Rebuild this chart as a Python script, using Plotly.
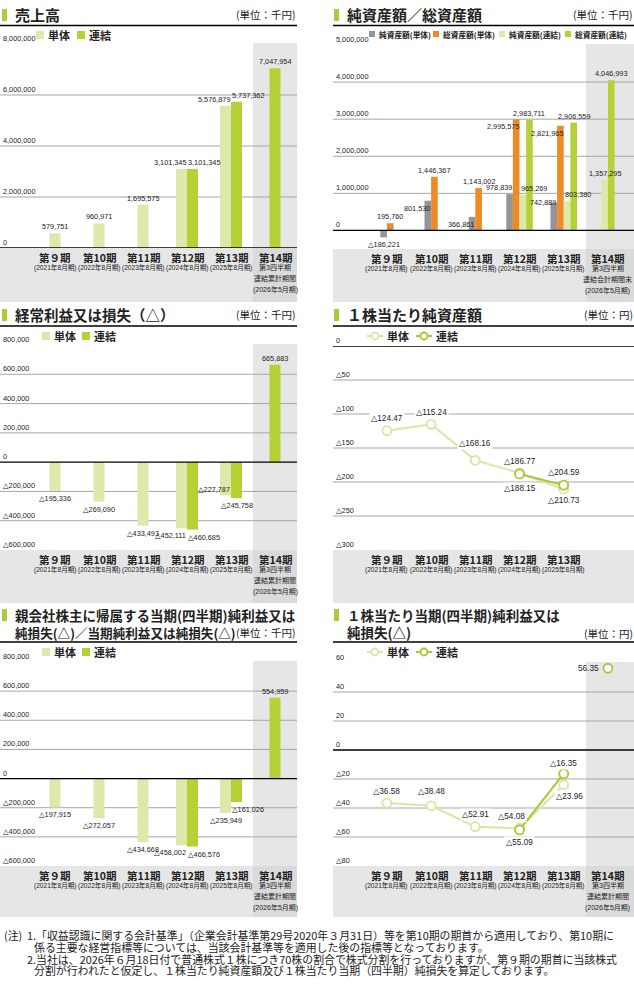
import plotly.graph_objects as go

W, H = 634, 990

# ---------------- data ----------------
periods = ["第９期", "第10期", "第11期", "第12期", "第13期", "第14期"]
period_notes = ["(2021年8月期)", "(2022年8月期)", "(2023年8月期)", "(2024年8月期)", "(2025年8月期)"]
q3_notes_cum = ["第3四半期", "連結累計期間", "(2026年5月期)"]
q3_notes_end = ["第3四半期", "連結会計期間末", "(2026年5月期)"]

sales_single = [579751, 960971, 1695575, 3101345, 5576879, None]
sales_consol = [None, None, None, 3101345, 5737362, 7047954]

net_assets_single = [-186221, 801530, 366861, 978839, 742889, None]
total_assets_single = [195760, 1446367, 1143002, 2995575, 2821965, None]
net_assets_consol = [None, None, None, 965269, 803380, 1357295]
total_assets_consol = [None, None, None, 2983711, 2906559, 4046993]

ordinary_single = [-195336, -269090, -433493, -452111, -227787, None]
ordinary_consol = [None, None, None, -460685, -245758, 665883]

bps_single = [-124.47, -115.24, -168.16, -186.77, -210.73]
bps_consol = [None, None, None, -188.15, -204.59]

net_single = [-197915, -272057, -434668, -458002, -235949, None]
net_consol = [None, None, None, -466576, -161026, 554959]

eps_single = [-36.58, -38.48, -52.91, -54.08, -23.96, None]
eps_consol = [None, None, None, -55.09, -16.35, 56.35]

ticks_sales = [0, 2000000, 4000000, 6000000, 8000000]
ticks_assets = [0, 1000000, 2000000, 3000000, 4000000, 5000000]
ticks_profit = [-600000, -400000, -200000, 0, 200000, 400000, 600000, 800000]
ticks_bps = [-300, -250, -200, -150, -100, -50, 0]
ticks_eps = [-80, -60, -40, -20, 0, 20, 40, 60]

notes = [
    "1.「収益認識に関する会計基準」（企業会計基準第29号2020年３月31日）等を第10期の期首から適用しており、第10期に",
    "係る主要な経営指標等については、当該会計基準等を適用した後の指標等となっております。",
    "2.当社は、2026年６月18日付で普通株式１株につき70株の割合で株式分割を行っておりますが、第９期の期首に当該株式",
    "分割が行われたと仮定し、１株当たり純資産額及び１株当たり当期（四半期）純損失を算定しております。",
]

# ---------------- style ----------------
NUM = "Liberation Sans, Arial, DejaVu Sans, Noto Sans CJK JP, sans-serif"
JP = "Noto Sans CJK JP, sans-serif"
C_SINGLE = "#dde9ab"
C_CONSOL = "#b4d235"
C_GRAY = "#939598"
C_ORANGE = "#f08a24"
L_SINGLE = "#d6e7a4"
L_CONSOL = "#a5c92f"
MARK = "#a9cc3a"
BAND = "#e6e6e6"
BAND_DARK = "#dadada"
GRID = "#a6a6a6"
INK = "#222222"

LEFT = dict(px=(0, 297), xr=(-1.25, 5.5))
RIGHT = dict(px=(333, 634), xr=(-1.22, 5.59))
panel = {
    1: dict(col=LEFT, y=(44, 248), yr=(0, 8e6), ticks=ticks_sales, band=302, q3=True),
    2: dict(col=RIGHT, y=(45, 249), yr=(-5e5, 5e6), ticks=ticks_assets, band=302, q3=True),
    3: dict(col=LEFT, y=(345, 550), yr=(-6e5, 8e5), ticks=ticks_profit, band=603, q3=True),
    4: dict(col=RIGHT, y=(346, 550), yr=(-300, 0), ticks=ticks_bps, band=603, q3=False),
    5: dict(col=LEFT, y=(662, 866), yr=(-6e5, 8e5), ticks=ticks_profit, band=917, q3=True),
    6: dict(col=RIGHT, y=(663, 866), yr=(-80, 60), ticks=ticks_eps, band=917, q3=True),
}


def px(x):
    return x / W


def py(y):
    return 1 - y / H


def fmt(v, d=0):
    s = f"{abs(v):,.{d}f}"
    return "△" + s if v < 0 else s


def col_px(p, xv):
    (a, b), (r0, r1) = p["col"]["px"], p["col"]["xr"]
    return a + (xv - r0) / (r1 - r0) * (b - a)


def ax(k):
    return ("x", "y") if k == 1 else (f"x{k}", f"y{k}")


fig = go.Figure()
shapes, annots = [], []


def rect(x0, y0, x1, y1, color, layer="below"):
    shapes.append(dict(type="rect", xref="paper", yref="paper", x0=px(x0), x1=px(x1),
                       y0=py(y1), y1=py(y0), fillcolor=color, line_width=0, layer=layer))


def hline(x0, x1, y, color="black", width=1.3):
    shapes.append(dict(type="line", xref="paper", yref="paper", x0=px(x0), x1=px(x1),
                       y0=py(y), y1=py(y), line=dict(color=color, width=width), layer="above"))


def text(x, y, s, size, family=JP, anchor="left", color=INK, weight="normal"):
    annots.append(dict(x=px(x), y=py(y), xref="paper", yref="paper", text=s, showarrow=False,
                       xanchor=anchor, yanchor="middle", borderpad=0,
                       font=dict(family=family, size=size, color=color, weight=weight)))


# ---------------- axes, bands, grid ----------------
for k, p in panel.items():
    (x0, x1), (yt, yb) = p["col"]["px"], p["y"]
    xn, yn = ax(k)
    fig.layout["xaxis" if k == 1 else f"xaxis{k}"] = dict(
        domain=[px(x0), px(x1)], range=list(p["col"]["xr"]), visible=False, anchor=yn, fixedrange=True)
    fig.layout["yaxis" if k == 1 else f"yaxis{k}"] = dict(
        domain=[py(yb), py(yt)], range=list(p["yr"]), anchor=xn, fixedrange=True,
        showticklabels=False, ticks="", showgrid=False, zeroline=False, showline=False)

    rect(x0, yb, x1, p["band"], BAND)
    if p["q3"]:
        c = col_px(p, 4.5)
        rect(c, yt - 1, x1, yb, BAND)
        rect(c, yb, x1, p["band"], BAND_DARK)

    for t in p["ticks"]:
        # tick labels sit just above their gridline, inside the plot
        annots.append(dict(x=0, y=t, xref=f"{xn} domain", yref=yn, text=fmt(t), showarrow=False,
                           xanchor="left", yanchor="bottom", xshift=2, yshift=0, borderpad=0,
                           font=dict(family=NUM, size=7.3, color=INK)))
        if t == 0:
            shapes.append(dict(type="line", xref=f"{xn} domain", yref=yn, x0=0, x1=1, y0=0, y1=0,
                               line=dict(color="black", width=1.3), layer="above"))
        elif p["yr"][0] < t < p["yr"][1]:
            shapes.append(dict(type="line", xref=f"{xn} domain", yref=yn, x0=0, x1=1, y0=t, y1=t,
                               line=dict(color=GRID, width=1), layer="below"))


def cat_labels(k, n, q3_lines):
    p = panel[k]
    yb = p["y"][1]
    for i in range(n):
        cx = col_px(p, i)
        text(cx, yb + 9.5, periods[i], 10.5, anchor="center", weight="bold")
        subs = [period_notes[i]] if i < 5 else q3_lines
        for j, s in enumerate(subs):
            size = 6.6 if i < 5 else 7
            text(cx, yb + 19.5 + 11 * j, s, size, family=NUM, anchor="center")


# ---------------- bars ----------------
def bar_panel(k, series, w, modes):
    xn, yn = ax(k)
    n = len(series[0][0])
    for si, (vals, color) in enumerate(series):
        offs = []
        for i in range(n):
            present = [s for s in range(len(series)) if series[s][0][i] is not None]
            offs.append(-len(present) * w / 2 + present.index(si) * w if si in present else 0)
        fig.add_trace(go.Bar(x=list(range(n)), y=vals, width=w, offset=offs,
                             marker=dict(color=color, line_width=0), xaxis=xn, yaxis=yn,
                             showlegend=False, hoverinfo="skip"))
        for i, v in enumerate(vals):
            if v is None:
                continue
            present = [s for s in range(len(series)) if series[s][0][i] is not None]
            if len(present) == 1:
                default = ("c", "out")
            else:
                default = ("l", "out") if present.index(si) == 0 else ("r", "out")
            h, vm = modes.get((si, i), default)
            left = i + offs[i]
            x, xa = {"c": (left + w / 2, "center"), "l": (left + w, "right"), "r": (left, "left")}[h]
            if vm == "mid":
                ya, ys = "middle", 0
            elif (vm == "out") == (v >= 0):
                ya, ys = "bottom", 1
            else:
                ya, ys = "top", -2
            annots.append(dict(x=x, y=v, xref=xn, yref=yn, text=fmt(v), showarrow=False,
                               xanchor=xa, yanchor=ya, yshift=ys, borderpad=0,
                               font=dict(family=NUM, size=7.3, color=INK)))


bar_panel(1, [(sales_single, C_SINGLE), (sales_consol, C_CONSOL)], 0.25, {})
bar_panel(2, [(net_assets_single, C_GRAY), (total_assets_single, C_ORANGE),
              (net_assets_consol, C_SINGLE), (total_assets_consol, C_CONSOL)], 0.15,
          {(0, 0): ("c", "out"), (1, 0): ("c", "out"),
           (0, 1): ("l", "in"), (1, 1): ("c", "out"),
           (0, 2): ("l", "in"), (1, 2): ("c", "out"),
           (0, 3): ("l", "out"), (1, 3): ("l", "in"), (2, 3): ("r", "out"), (3, 3): ("c", "out"),
           (0, 4): ("l", "mid"), (1, 4): ("l", "in"), (2, 4): ("r", "out"), (3, 4): ("c", "out"),
           (2, 5): ("c", "out"), (3, 5): ("c", "out")})
bar_panel(3, [(ordinary_single, C_SINGLE), (ordinary_consol, C_CONSOL)], 0.25,
          {(0, 4): ("l", "in"), (1, 4): ("c", "out")})
bar_panel(5, [(net_single, C_SINGLE), (net_consol, C_CONSOL)], 0.25,
          {(0, 4): ("c", "out"), (1, 4): ("r", "out")})


# ---------------- lines ----------------
def line_panel(k, series, pos):
    xn, yn = ax(k)
    for si, (vals, color) in enumerate(series):
        mk = dict(symbol="circle", size=9, color="white", line=dict(color=color, width=1.8))
        # 第14期 is a quarter figure: shown as a lone point, not joined to the line
        main, extra = vals[:5], vals[5:]
        fig.add_trace(go.Scatter(x=list(range(5)), y=main, mode="lines+markers",
                                 line=dict(color=color, width=2), marker=mk,
                                 xaxis=xn, yaxis=yn, showlegend=False, hoverinfo="skip"))
        if extra:
            fig.add_trace(go.Scatter(x=list(range(5, 5 + len(extra))), y=extra, mode="markers",
                                     marker=mk, xaxis=xn, yaxis=yn, showlegend=False, hoverinfo="skip"))
        for i, v in enumerate(vals):
            if v is None:
                continue
            dx, dy, xa = pos.get((si, i), (0, 12, "center"))
            annots.append(dict(x=i, y=v, xref=xn, yref=yn, text=fmt(v, 2), showarrow=False,
                               xanchor=xa, yanchor="middle", xshift=dx, yshift=dy, borderpad=1,
                               bgcolor="white" if i < 5 else None,
                               font=dict(family=NUM, size=8.2, color=INK)))


line_panel(4, [(bps_single, L_SINGLE), (bps_consol, L_CONSOL)],
           {(0, 2): (0, 17, "center"), (0, 4): (0, -11, "center"),
            (1, 3): (0, -15, "center"), (1, 4): (0, 13, "center")})
line_panel(6, [(eps_single, L_SINGLE), (eps_consol, L_CONSOL)],
           {(0, 1): (0, 14, "center"), (0, 3): (-8, 12, "center"), (0, 4): (6, -12, "center"),
            (1, 3): (0, -13, "center"), (1, 4): (0, 10, "center"), (1, 5): (-7, 0, "right")})

# ---------------- category labels ----------------
cat_labels(1, 6, q3_notes_cum)
cat_labels(2, 6, q3_notes_end)
cat_labels(3, 6, q3_notes_cum)
cat_labels(4, 5, [])
cat_labels(5, 6, q3_notes_cum)
cat_labels(6, 6, q3_notes_cum)


# ---------------- titles ----------------
def title(x_mark, lines, y0, rule_y, x1, unit, unit_y):
    rect(x_mark, y0 - 6, x_mark + 5, y0 + 6, MARK, layer="above")
    for j, (s, size) in enumerate(lines):
        text(x_mark + 12, y0 + 17 * j, s, size, weight="bold")
    text(x1, unit_y, unit, 10.5, anchor="right")
    hline(x_mark - 2 if x_mark < 10 else x_mark - 1, x1, rule_y, width=1.5)


title(2, [("売上高", 15)], 15, 25.5, 297, "(単位：千円)", 15)
title(334, [("純資産額／総資産額", 15)], 15, 25.5, 634, "(単位：千円)", 15)
title(2, [("経常利益又は損失（△）", 14.5)], 315, 326, 297, "(単位：千円)", 315)
title(334, [("１株当たり純資産額", 15)], 315, 326, 634, "(単位：円)", 315)
title(2, [("親会社株主に帰属する当期(四半期)純利益又は", 13.5),
          ("純損失(△)／当期純利益又は純損失(△)", 12.6)], 615, 642, 297, "(単位：千円)", 632)
title(334, [("１株当たり当期(四半期)純利益又は", 13.5), ("純損失(△)", 13.5)],
      615, 642, 634, "(単位：円)", 633)


# ---------------- legends ----------------
def legend_bar(x, y, color, label, sq=8, size=11, family=JP):
    rect(x, y - sq / 2, x + sq, y + sq / 2, color, layer="above")
    text(x + sq + 3, y, label, size, family=family, weight="bold")


def legend_line(x, y, color, label):
    hline(x, x + 16, y, color=color, width=2)
    shapes.append(dict(type="circle", xref="paper", yref="paper", x0=px(x + 4.5), x1=px(x + 11.5),
                       y0=py(y + 3.5), y1=py(y - 3.5), fillcolor="white",
                       line=dict(color=color, width=1.8), layer="above"))
    text(x + 19, y, label, 11, weight="bold")


for ly in (35, 336, 652):
    legend_bar(36 if ly == 35 else 42, ly, C_SINGLE, "単体")
    legend_bar(77 if ly == 35 else 82, ly, C_CONSOL, "連結")

for lx, c, s in [(369, C_GRAY, "純資産額(単体)"), (433, C_ORANGE, "総資産額(単体)"),
                 (499, C_SINGLE, "純資産額(連結)"), (565, C_CONSOL, "総資産額(連結)")]:
    legend_bar(lx, 34, c, s, sq=6, size=7.7)

for ly in (336, 652):
    legend_line(367, ly, L_SINGLE, "単体")
    legend_line(416, ly, L_CONSOL, "連結")

# ---------------- notes ----------------
text(3, 935, "(注)", 10.8)
note_x = [26, 33, 26, 33]
note_y = [935, 947, 959, 970]
for s, x, y in zip(notes, note_x, note_y):
    text(x, y, s, 10.9)

fig.update_layout(
    width=W, height=H, margin=dict(l=0, r=0, t=0, b=0),
    paper_bgcolor="white", plot_bgcolor="rgba(0,0,0,0)",
    barmode="overlay", showlegend=False,
    shapes=shapes, annotations=annots,
    font=dict(family=JP, color=INK),
)

# drop the browser's default body margin so the figure sits at the page corner
fig.write_html("out.html", config={"displayModeBar": False},
               post_script="document.body.style.margin='0';")
